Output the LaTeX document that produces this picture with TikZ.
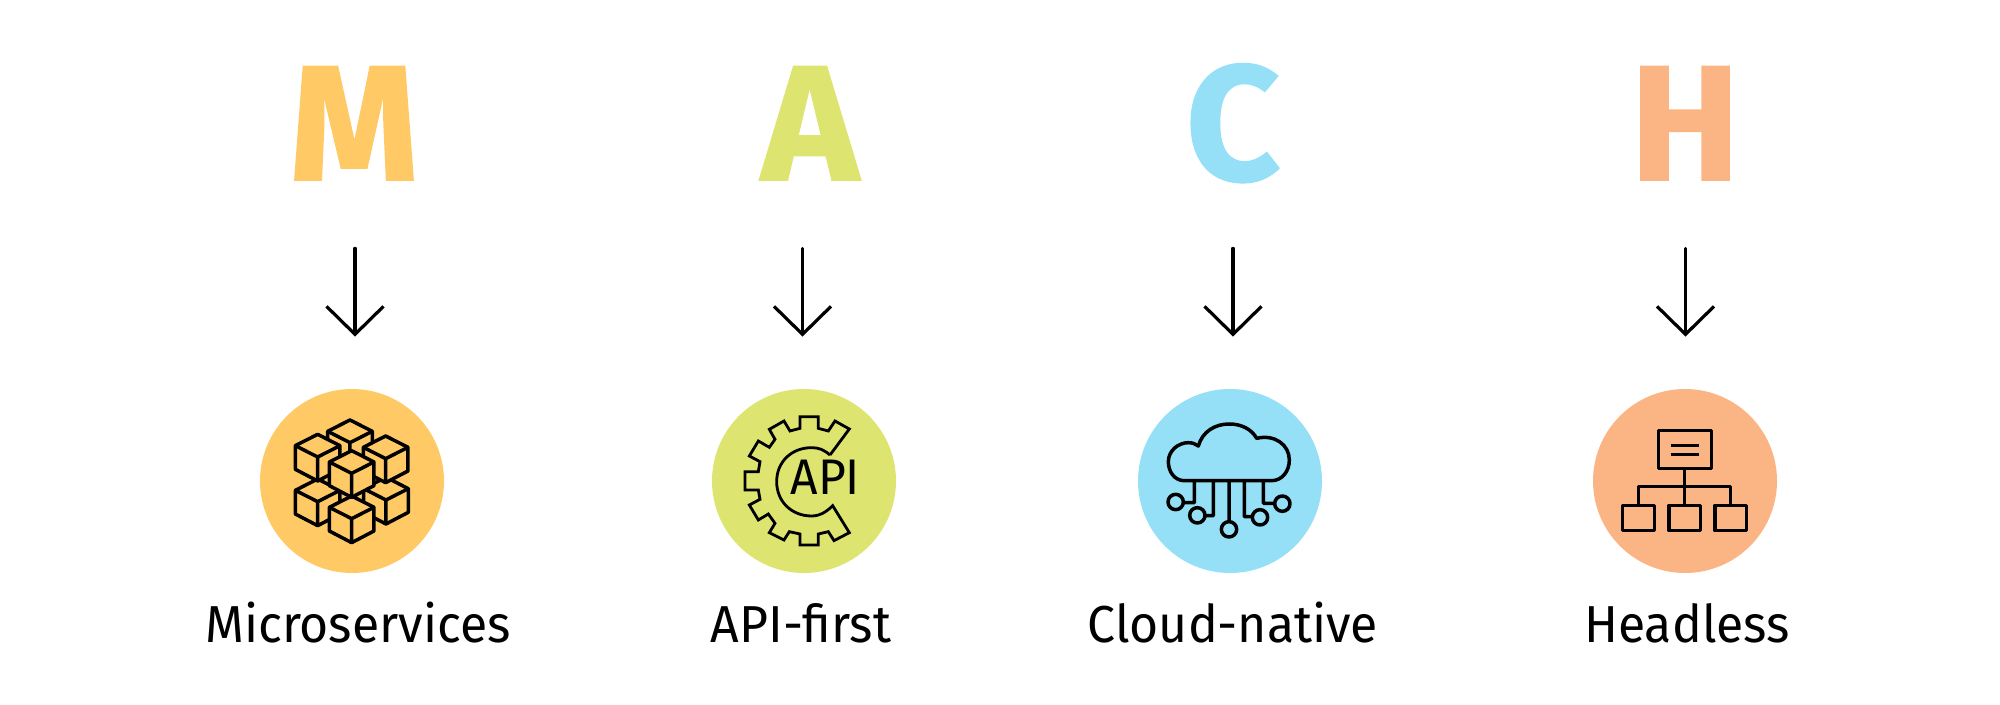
\documentclass[tikz,border=0pt]{standalone}
\usepackage{fontspec}
\setmainfont{Fira Sans}
\newfontfamily\capsfont[BoldFeatures={FakeBold=1}]{Fira Sans}
\newfontfamily\labelfont[FakeStretch=.96]{Fira Sans}
\usetikzlibrary{arrows.meta}
\definecolor{microtone}{HTML}{FFC966}
\definecolor{apitone}{HTML}{DDE46F}
\definecolor{cloudtone}{HTML}{96E0F7}
\definecolor{headtone}{HTML}{FBB584}
\tikzstyle{capletter}=[anchor=base,inner sep=0pt,text depth=0pt,font=\fontsize{82}{82}\selectfont\capsfont\bfseries]
\tikzstyle{disc}=[circle,minimum size=92pt,inner sep=0pt]
\tikzstyle{caption}=[anchor=base,inner sep=0pt,font=\fontsize{26}{26}\selectfont\labelfont]
\tikzstyle{flowarrow}=[draw,line width=1.6pt,line cap=round,-{Straight Barb[length=14pt,width=28.5pt]},shorten <=34pt,shorten >=26pt]
\tikzstyle{iconline}=[draw,line width=1.75pt,line join=round]
\tikzstyle{thinline}=[draw,line width=1.4pt,line join=miter]

\begin{document}
\begin{tikzpicture}[x=.5pt,y=-.5pt]
    \useasboundingbox (0,0) rectangle (2000,705);

    \foreach \lx/\ax/\cx/\tx/\name/\letter/\tone/\word in {354/355/352/358/M/M/microtone/Microservices, 810/802.5/804/801/A/A/apitone/API-first, 1233/1233/1230/1233/C/C/cloudtone/Cloud-native, 1685/1685.5/1685/1687/H/H/headtone/Headless}
    {
        \node[capletter,text=\tone] (letter\name) at (\lx,180) {\letter};
        \node[disc,fill=\tone] (disc\name) at (\cx,481) {};
        \node[caption] (word\name) at (\tx,642) {\word};
        \coordinate (axis\name) at (\ax,0);
        \path[flowarrow] (letter\name.south -| axis\name) -- (disc\name.north -| axis\name);
    }

    % boxes, back to front
    \begin{scope}[shift={(230,360)},x=.5pt/3,y=-.5pt/3]
        \foreach \bx/\by in {360/180, 263/357, 468/352, 263/223, 467/228, 365/408, 365/272}
        {
            \draw[iconline,fill=microtone] (\bx,\by) -- ++(67,34) -- ++(0,71) -- ++(-67,35) -- ++(-67,-35) -- ++(0,-71) -- cycle;
            \draw[iconline] (\bx-67,\by+34) -- ++(67,34) -- ++(67,-34) (\bx,\by+68) -- ++(0,71);
        }
    \end{scope}

    % gear
    \begin{scope}[shift={(690,360)},x=.5pt/3,y=-.5pt/3]
        \draw[thinline] (420,285) -- (478,207) -- (435,183) -- (415,213) -- (385,205) -- (385,170) -- (330,170) -- (330,205) -- (300,213) -- (282,183) -- (238,208) -- (255,238) -- (238,262) -- (205,243) -- (178,288) -- (210,305) -- (205,335) -- (165,335) -- (165,390) -- (205,390) -- (210,418) -- (178,435) -- (205,480) -- (235,462) -- (255,490) -- (238,518) -- (282,540) -- (298,515) -- (330,522) -- (330,555) -- (385,555) -- (385,522) -- (415,515) -- (432,542) -- (478,518) -- (428,437)
            .. controls (410,455) and (390,468) .. (365,468) .. controls (305,468) and (260,425) .. (260,365) .. controls (260,305) and (305,263) .. (365,263) .. controls (385,263) and (400,268) .. (420,285);
        \node[anchor=base,inner sep=0pt,font=\fontsize{25}{25}\selectfont\labelfont] (apiword) at (406,403) {API};
    \end{scope}

    % cloud
    \begin{scope}[shift={(1115,360)},x=.5pt/3,y=-.5pt/3]
        \draw[iconline] (205,362) .. controls (178,360) and (160,335) .. (160,305) .. controls (160,272) and (190,248) .. (220,248) .. controls (232,248) and (242,252) .. (250,258)
            .. controls (262,215) and (300,192) .. (342,192) .. controls (380,192) and (410,208) .. (425,235)
            .. controls (480,222) and (523,255) .. (523,300) .. controls (523,335) and (500,362) .. (470,362) -- cycle;
        \foreach \wx/\wy/\ex/\dx/\dy in {238/428/205/182/426, 295/467/270/247/466, 388/470/412/435/472, 445/430/478/502/431}
            \draw[iconline] (\wx,362) -- (\wx,\wy) -- (\ex,\wy) (\dx,\dy) circle[radius=23];
        \draw[iconline] (342,362) -- (342,484) (342,508) circle[radius=23];
    \end{scope}

    % tree
    \begin{scope}[shift={(1565,360)},x=.5pt/3,y=-.5pt/3]
        \draw[iconline] (280,212) rectangle (440,325) (317,256) -- (403,256) (317,283) -- (403,283) (359,325) -- (359,436) (220,436) -- (220,380) -- (497,380) -- (497,436);
        \foreach \rx in {173,312,450}
            \draw[iconline] (\rx,436) rectangle ++(95,76);
    \end{scope}
\end{tikzpicture}
\end{document}
